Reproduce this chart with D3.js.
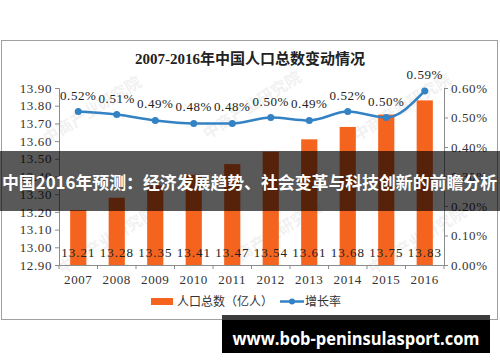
<!DOCTYPE html>
<html>
<head>
<meta charset="utf-8">
<script src="https://cdn.jsdelivr.net/npm/d3@7.9.0/dist/d3.min.js"></script>
<style>
  html, body { margin: 0; padding: 0; background: #fff; }
  svg { display: block; }
  .tick text { font-family: 'Liberation Serif', 'DejaVu Serif', serif; font-size: 13px; fill: #333; letter-spacing: 0.6px; }
  .tick line, .domain { stroke: #8c8c8c; }
</style>
</head>
<body>
<svg id="chart" width="500" height="362"></svg>
<script>
const years = ['2007', '2008', '2009', '2010', '2011', '2012', '2013', '2014', '2015', '2016'];
const population = [13.21, 13.28, 13.35, 13.41, 13.47, 13.54, 13.61, 13.68, 13.75, 13.83];
const growthRate = [0.52, 0.51, 0.49, 0.48, 0.48, 0.50, 0.49, 0.52, 0.50, 0.59];
const leftTicks = [12.9, 13.0, 13.1, 13.2, 13.3, 13.4, 13.5, 13.6, 13.7, 13.8, 13.9];
const rightTicks = [0, 0.1, 0.2, 0.3, 0.4, 0.5, 0.6];

const barColor = '#f5641e';
const lineColor = '#3382c4';
const cjk = "'Noto Sans CJK SC', sans-serif";
const serif = "'Liberation Serif', 'Noto Sans CJK SC', serif";

const svg = d3.select('#chart');

const x = d3.scaleBand().domain(years).range([59, 444]);
const yLeft = d3.scaleLinear().domain([12.9, 13.9]).range([265, 88]);
const yRight = d3.scaleLinear().domain([0, 0.6]).range([265, 88]);

// outer frame
svg.append('rect')
  .attr('x', 1.5).attr('y', 40.5).attr('width', 496).attr('height', 279)
  .attr('fill', '#fff').attr('stroke', '#a0a0a0');

// faint watermarks, kept inside the frame
const marks = [[95, 115], [255, 110], [405, 112], [110, 245], [275, 240], [420, 245]];
marks.forEach(([mx, my]) => {
  svg.append('text')
    .attr('transform', `translate(${mx},${my}) rotate(-32)`)
    .attr('text-anchor', 'middle')
    .attr('font-family', cjk)
    .attr('font-size', 16)
    .attr('font-weight', 'bold')
    .attr('fill', '#000')
    .attr('opacity', 0.05)
    .text('中商产业研究院');
});

// title
svg.append('text')
  .attr('x', 250).attr('y', 64)
  .attr('text-anchor', 'middle')
  .attr('font-family', serif)
  .attr('font-weight', 'bold')
  .attr('font-size', 15)
  .attr('fill', '#222')
  .text('2007-2016年中国人口总数变动情况');

// bars
const barWidth = x.bandwidth() * 0.42;
svg.append('g').selectAll('rect')
  .data(years)
  .join('rect')
  .attr('x', (d) => x(d) + (x.bandwidth() - barWidth) / 2)
  .attr('y', (d, i) => yLeft(population[i]))
  .attr('width', barWidth)
  .attr('height', (d, i) => yLeft(12.9) - yLeft(population[i]))
  .attr('fill', barColor);

// bar value labels
svg.append('g').selectAll('text')
  .data(years)
  .join('text')
  .attr('x', (d) => x(d) + x.bandwidth() / 2)
  .attr('y', 257)
  .attr('text-anchor', 'middle')
  .attr('font-family', serif)
  .attr('font-size', 13)
  .attr('letter-spacing', 1)
  .attr('fill', '#222')
  .text((d, i) => population[i].toFixed(2));

// left axis
svg.append('g')
  .attr('transform', 'translate(59,0)')
  .call(d3.axisLeft(yLeft).tickValues(leftTicks).tickFormat(d3.format('.2f')).tickSize(4).tickPadding(3));

// right axis
svg.append('g')
  .attr('transform', 'translate(444,0)')
  .call(d3.axisRight(yRight).tickValues(rightTicks).tickFormat((d) => d.toFixed(2) + '%').tickSize(4).tickPadding(3));

// bottom axis
const bottom = svg.append('g')
  .attr('transform', 'translate(0,265)')
  .call(d3.axisBottom(x).tickSize(0).tickPadding(10));
bottom.selectAll('.tick text').attr('dy', '0.71em');
bottom.selectAll('.boundary')
  .data(years.concat(['end']))
  .join('line')
  .attr('class', 'boundary')
  .attr('x1', (d) => (d === 'end' ? x.range()[1] : x(d)))
  .attr('x2', (d) => (d === 'end' ? x.range()[1] : x(d)))
  .attr('y1', 0).attr('y2', 4)
  .attr('stroke', '#8c8c8c');

// growth line
const line = d3.line()
  .x((d, i) => x(years[i]) + x.bandwidth() / 2)
  .y((d) => yRight(d))
  .curve(d3.curveMonotoneX);

svg.append('path')
  .datum(growthRate)
  .attr('d', line)
  .attr('fill', 'none')
  .attr('stroke', lineColor)
  .attr('stroke-width', 2.5);

svg.append('g').selectAll('circle')
  .data(growthRate)
  .join('circle')
  .attr('cx', (d, i) => x(years[i]) + x.bandwidth() / 2)
  .attr('cy', (d) => yRight(d))
  .attr('r', 3.5)
  .attr('fill', lineColor);

svg.append('g').selectAll('text')
  .data(growthRate)
  .join('text')
  .attr('x', (d, i) => x(years[i]) + x.bandwidth() / 2)
  .attr('y', (d) => yRight(d) - 12)
  .attr('text-anchor', 'middle')
  .attr('font-family', serif)
  .attr('font-size', 13)
  .attr('letter-spacing', 0.6)
  .attr('fill', '#222')
  .text((d) => d.toFixed(2) + '%');

// legend
const legend = svg.append('g');
legend.append('rect')
  .attr('x', 151).attr('y', 298).attr('width', 22).attr('height', 7)
  .attr('fill', barColor);
legend.append('text')
  .attr('x', 177).attr('y', 306)
  .attr('font-family', cjk).attr('font-size', 12).attr('fill', '#333')
  .text('人口总数（亿人）');
legend.append('line')
  .attr('x1', 280).attr('x2', 304).attr('y1', 301.5).attr('y2', 301.5)
  .attr('stroke', lineColor).attr('stroke-width', 2.5);
legend.append('circle')
  .attr('cx', 292).attr('cy', 301.5).attr('r', 3)
  .attr('fill', lineColor);
legend.append('text')
  .attr('x', 305).attr('y', 306)
  .attr('font-family', cjk).attr('font-size', 12).attr('fill', '#333')
  .text('增长率');

// overlay banner
svg.append('rect')
  .attr('x', 0).attr('y', 151).attr('width', 500).attr('height', 60)
  .attr('fill', '#000').attr('opacity', 0.65);
svg.append('text')
  .attr('x', 2).attr('y', 189)
  .attr('font-family', cjk)
  .attr('font-weight', 'bold')
  .attr('font-size', 17)
  .attr('fill', '#fff')
  .attr('textLength', 495)
  .attr('lengthAdjust', 'spacingAndGlyphs')
  .text('中国2016年预测：经济发展趋势、社会变革与科技创新的前瞻分析');

// site badge
svg.append('rect')
  .attr('x', 222).attr('y', 315).attr('width', 268).attr('height', 38)
  .attr('fill', '#000');
svg.append('rect')
  .attr('x', 222).attr('y', 315).attr('width', 268).attr('height', 5)
  .attr('fill', '#3c3c3c');
svg.append('text')
  .attr('x', 356).attr('y', 345)
  .attr('text-anchor', 'middle')
  .attr('font-family', "'Open Sans', sans-serif")
  .attr('font-weight', 'bold')
  .attr('font-size', 17)
  .attr('fill', '#fff')
  .attr('textLength', 247)
  .attr('lengthAdjust', 'spacingAndGlyphs')
  .text('www.bob-peninsulasport.com');
</script>
</body>
</html>
